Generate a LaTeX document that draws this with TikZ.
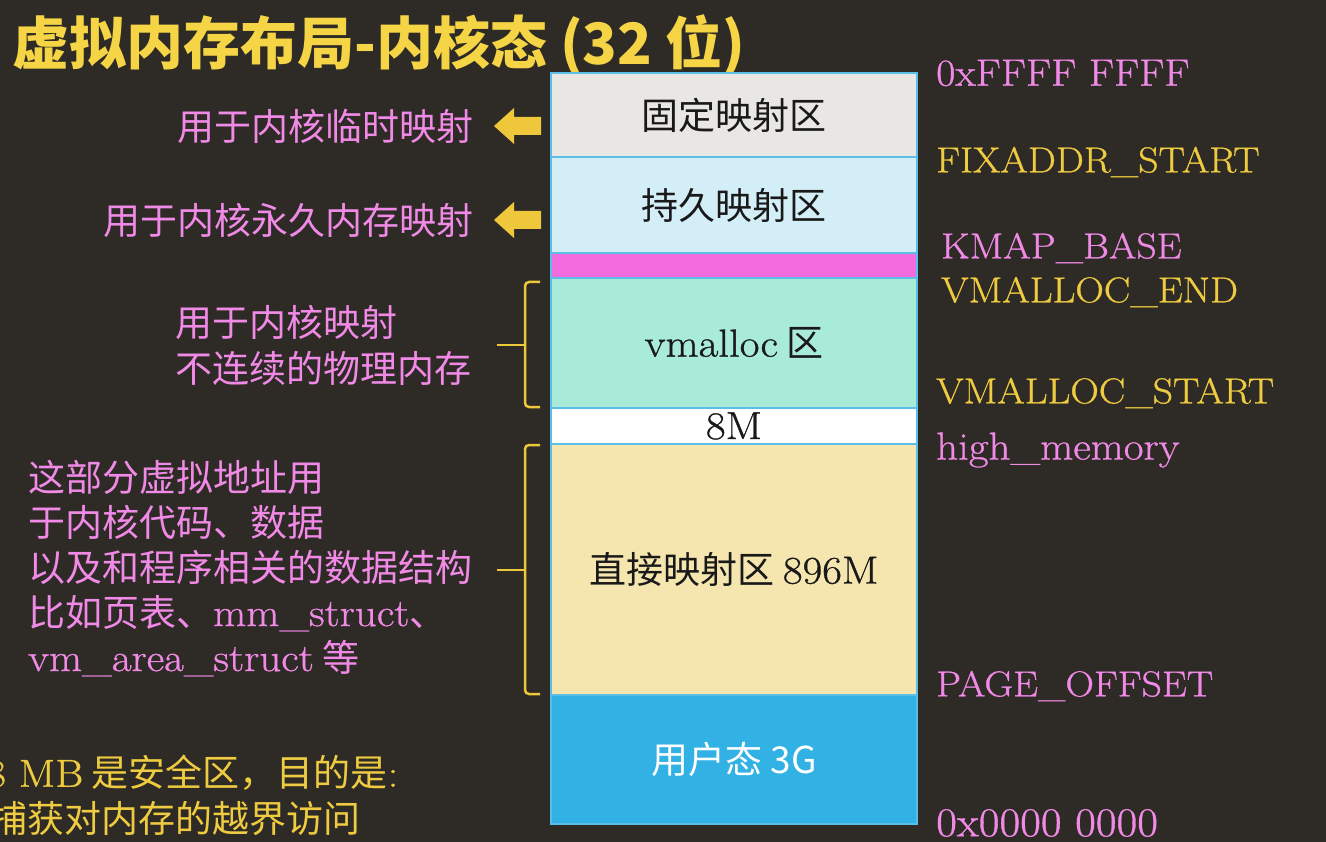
\documentclass[tikz,border=0pt]{standalone}
\usepackage{fontspec}
\setmainfont{Latin Modern Roman}[FakeBold=0.8, FakeStretch=1.1]
\newfontfamily\cjk{Noto Sans CJK SC}
\definecolor{bg}{RGB}{46,42,37}
\definecolor{cgray}{RGB}{233,231,228}
\definecolor{clblue}{RGB}{212,238,248}
\definecolor{cmag}{RGB}{242,107,223}
\definecolor{cmint}{RGB}{168,235,216}
\definecolor{ccream}{RGB}{245,229,175}
\definecolor{cblue}{RGB}{50,177,228}
\definecolor{bord}{RGB}{90,190,232}
\definecolor{pinkc}{RGB}{240,138,230}
\definecolor{yelc}{RGB}{238,203,64}
\definecolor{titley}{RGB}{245,213,70}
\definecolor{arrowy}{RGB}{238,200,58}
\definecolor{boxtxt}{RGB}{25,25,25}
\newcommand{\lmA}{\rmfamily\fontsize{39}{44}\selectfont}
\newcommand{\lmB}{\rmfamily\fontsize{39}{45}\selectfont}
\begin{document}
\begin{tikzpicture}[x=1pt,y=-1pt,
  box/.style={draw=bord, line width=2pt, minimum width=366pt, inner sep=0pt, text=boxtxt, font=\cjk\fontsize{37}{44}\selectfont},
  pinkt/.style={text=pinkc, inner sep=0pt, font=\cjk\fontsize{37}{45}\selectfont},
  yelt/.style={text=yelc, inner sep=0pt, font=\cjk\fontsize{37}{45}\selectfont},
  rlab/.style={inner sep=0pt, anchor=west, font=\rmfamily\fontsize{36}{40}\selectfont},
  blockarrow/.style={fill=arrowy},
  bracket/.style={draw=arrowy, line width=2.5pt, rounded corners=4pt}]
\fill[bg] (0,0) rectangle (1326,842);
\useasboundingbox (0,0) rectangle (1326,842);

% title
\node[anchor=west, inner sep=0pt, text=titley, font=\cjk\bfseries\fontsize{57}{60}\selectfont] (title) at (12,45)
  {虚拟内存布局-内核态 (32 位)};

% memory column
\node[box, fill=cgray, minimum height=84pt] (fix) at (734,115) {固定映射区};
\node[box, fill=clblue, minimum height=96pt] (per) at (734,205) {持久映射区};
\node[box, fill=cmag, minimum height=25pt] (kmap) at (734,265.5) {};
\node[box, fill=cmint, minimum height=130pt] (vm) at (734,343) {{\lmA vmalloc} 区};
\node[box, fill=white, minimum height=36pt] (gap) at (734,426) {\lmA 8M};
\node[box, fill=ccream, minimum height=251pt] (dir) at (734,569.5) {直接映射区 {\lmA 896M}};
\node[box, fill=cblue, minimum height=129pt, text=white] (usr) at (734,759.5) {用户态 3G};

% arrows
\fill[blockarrow] (494,126) -- (514,108) -- (514,117) -- (541,117) -- (541,135) -- (514,135) -- (514,144) -- cycle;
\fill[blockarrow] (494,220) -- (514,202) -- (514,211) -- (541,211) -- (541,229) -- (514,229) -- (514,238) -- cycle;

% brackets
\draw[bracket] (540,282) -- (525,282) -- (525,407) -- (540,407);
\draw[draw=arrowy, line width=2.5pt] (525,345) -- (497,345);
\draw[bracket] (540,445) -- (525,445) -- (525,694) -- (540,694);
\draw[draw=arrowy, line width=2.5pt] (525,570) -- (497,570);

% left labels
\node[pinkt, anchor=east] (l1) at (474,126) {用于内核临时映射};
\node[pinkt, anchor=east] (l2) at (474,220) {用于内核永久内存映射};
\node[pinkt, anchor=west, align=left, font=\cjk\fontsize{37}{46}\selectfont] (l3) at (175,345) {用于内核映射\\不连续的物理内存};
\node[pinkt, anchor=west, align=left] (l4) at (28,568)
  {这部分虚拟地址用\\于内核代码、数据\\以及和程序相关的数据结构\\比如页表、{\lmB mm\_struct}、\\{\lmB vm\_area\_struct} 等};

% bottom note
\node[yelt, anchor=west] (b1) at (-14,773) {{\lmB 8 MB} 是安全区，目的是{\lmB :}};
\node[yelt, anchor=west] (b2) at (-10,818) {捕获对内存的越界访问};

% right addresses
\node[rlab, text=pinkc, font=\rmfamily\fontsize{38}{42}\selectfont] (a0) at (936,73) {0xFFFF FFFF};
\node[rlab, text=yelc] (a1) at (936,162) {FIXADDR\_START};
\node[rlab, text=pinkc] (a2) at (941,248) {KMAP\_BASE};
\node[rlab, text=yelc] (a3) at (941,292) {VMALLOC\_END};
\node[rlab, text=yelc] (a4) at (936,393) {VMALLOC\_START};
\node[rlab, text=pinkc, font=\rmfamily\fontsize{39}{44}\selectfont] (a5) at (936,450) {high\_memory};
\node[rlab, text=pinkc] (a6) at (936,686) {PAGE\_OFFSET};
\node[rlab, text=pinkc, font=\rmfamily\fontsize{41}{44}\selectfont] (a7) at (936,823) {0x0000 0000};
\end{tikzpicture}
\end{document}
